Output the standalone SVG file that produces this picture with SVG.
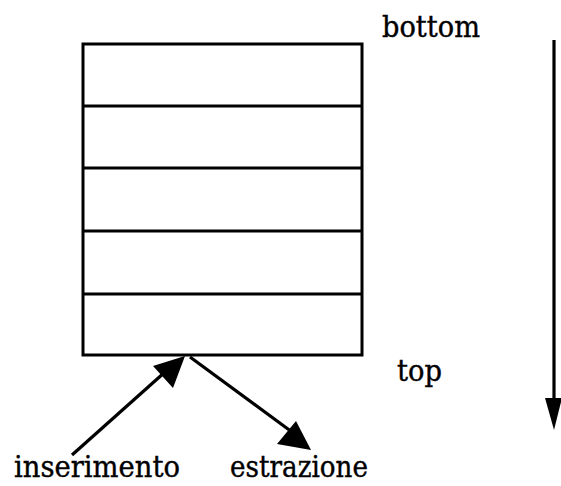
<svg xmlns="http://www.w3.org/2000/svg" width="561" height="486" viewBox="0 0 561 486">
<style>
.box{fill:none;stroke:#000;stroke-width:3}
.ln{stroke:#000;stroke-width:3;fill:none}
.c{stroke:#000;stroke-width:3.2;fill:none}
.t{font-family:"DejaVu Serif","Liberation Serif",serif;font-size:29px;fill:#000;stroke:#000;stroke-width:0.4}
</style>
<rect width="561" height="486" fill="#fff"/>
<g id="stack">
<rect class="box" x="83" y="44" width="279" height="311"/>
<line class="ln" x1="83" y1="106" x2="362" y2="106"/>
<line class="ln" x1="83" y1="168" x2="362" y2="168"/>
<line class="ln" x1="83" y1="231" x2="362" y2="231"/>
<line class="ln" x1="83" y1="294" x2="362" y2="294"/>
</g>
<g id="labels">
<text class="t" x="382" y="37" textLength="98" lengthAdjust="spacingAndGlyphs">bottom</text>
<text class="t" x="397" y="381" textLength="45" lengthAdjust="spacingAndGlyphs">top</text>
<text class="t" x="14" y="477" textLength="166" lengthAdjust="spacingAndGlyphs">inserimento</text>
<text class="t" x="230" y="477" textLength="138" lengthAdjust="spacingAndGlyphs">estrazione</text>
</g>
<g id="connectors">
<line class="c" x1="72" y1="455" x2="165" y2="372"/>
<polygon points="185,356 173,388 153,366" fill="#000"/>
<line class="c" x1="190" y1="357" x2="292" y2="432"/>
<polygon points="311,450 277,444 296,421" fill="#000"/>
<line class="c" x1="554" y1="40" x2="554" y2="400"/>
<polygon points="545,398 562,398 554,430" fill="#000"/>
</g>
</svg>
